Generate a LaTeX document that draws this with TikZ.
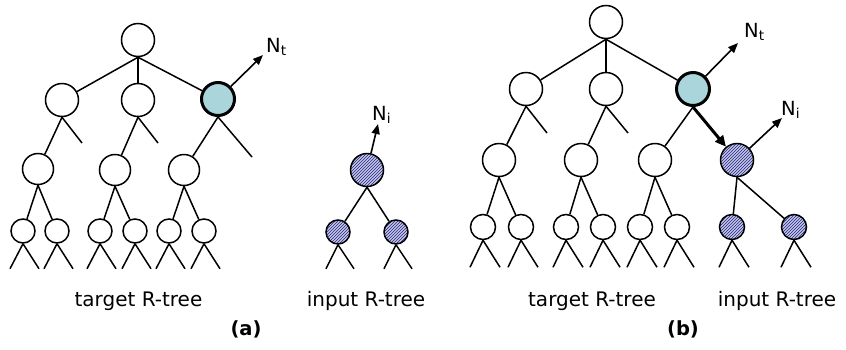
\documentclass[tikz,border=0pt]{standalone}
\usepackage{fontspec}
\setmainfont{DejaVu Sans}
\usetikzlibrary{arrows.meta,patterns}

\definecolor{hotfill}{RGB}{170,214,219}
\definecolor{hatchfill}{RGB}{196,198,236}
\definecolor{hatchline}{RGB}{38,40,118}

\tikzset{
  nd/.style={circle, draw, line width=1.5pt, inner sep=0pt, fill=white, minimum size=33pt},
  lvl3/.style={minimum size=31pt},
  leafnd/.style={minimum size=24pt},
  hot/.style={fill=hotfill, line width=3pt},
  hatch/.style={fill=none, preaction={fill=hatchfill}, pattern=north east lines, pattern color=hatchline},
  edge/.style={line width=1.5pt},
  ptr/.style={line width=1.6pt, -{Triangle[length=10pt,width=8pt]}},
  bigptr/.style={line width=3pt, -{Triangle[length=11pt,width=10pt]}},
  lbl/.style={font=\fontsize{19.5}{21}\selectfont, inner sep=0pt},
  panelcap/.style={font=\fontsize{19.5}{21}\selectfont\bfseries, inner sep=0pt, anchor=base},
  ttl/.style={font=\fontsize{20}{22}\selectfont, inner sep=0pt, anchor=base},
}

\begin{document}
\begin{tikzpicture}[x=1pt, y=-1pt]
\useasboundingbox (0,0) rectangle (846,349);

% ---------------- (a) target R-tree ----------------
\node[nd] (a) at (138,40) {};
\node[nd] (a1) at (62,100) {};
\node[nd] (a2) at (138,100) {};
\node[nd,hot] (a3) at (218,99) {};
\node[nd,lvl3] (a11) at (38,169) {};
\node[nd,lvl3] (a21) at (115,170) {};
\node[nd,lvl3] (a31) at (184,170) {};
\node[nd,leafnd] (a111) at (23,231) {};
\node[nd,leafnd] (a112) at (57,231) {};
\node[nd,leafnd] (a211) at (100,231) {};
\node[nd,leafnd] (a212) at (135,231) {};
\node[nd,leafnd] (a311) at (169,231) {};
\node[nd,leafnd] (a312) at (204,231) {};
\coordinate (a1x) at (82,143);
\coordinate (a2x) at (158,143);
\coordinate (a3x) at (252,157);

\draw[edge] (a.south) -- (a1);
\draw[edge] (a.south) -- (a2);
\draw[edge] (a.south) -- (a3);
\draw[edge] (a1.south) -- (a11);
\draw[edge] (a1.south) -- (a1x);
\draw[edge] (a2.south) -- (a21);
\draw[edge] (a2.south) -- (a2x);
\draw[edge] (a3.south) -- (a31);
\draw[edge] (a3.south) -- (a3x);
\foreach \p/\c in {a11/a111, a11/a112, a21/a211, a21/a212, a31/a311, a31/a312}
  \draw[edge] (\p.south) -- (\c);
\foreach \c in {a111, a112, a211, a212, a311, a312} {
  \draw[edge] (\c.south) -- ++(-13,25);
  \draw[edge] (\c.south) -- ++(16,25);
}

\node[lbl, anchor=base west] (ant) at (266,52) {N\textsubscript{t}};
\coordinate (antTip) at (263,55);
\draw[ptr] (a3) -- (antTip);

\node[ttl] (ta) at (138.5,306) {target R-tree};

% ---------------- (a) input R-tree ----------------
\node[nd,hatch] (i) at (367,170) {};
\node[nd,leafnd,hatch] (i1) at (338,232) {};
\node[nd,leafnd,hatch] (i2) at (396,232) {};
\draw[edge] (i.south) -- (i1);
\draw[edge] (i.south) -- (i2);
\foreach \c in {i1, i2} {
  \draw[edge] (\c.south) -- ++(-12,24);
  \draw[edge] (\c.south) -- ++(16,24);
}
\node[lbl, anchor=base west] (ani) at (372,120) {N\textsubscript{i}};
\coordinate (aniTip) at (378,124);
\draw[ptr] (i) -- (aniTip);

\node[ttl] (ia) at (366,306) {input R-tree};
\node[panelcap] (capa) at (246,335) {(a)};

% ---------------- (b) merged tree ----------------
\node[nd] (b) at (606,22) {};
\node[nd] (b1) at (526,89) {};
\node[nd] (b2) at (606,89) {};
\node[nd,hot] (b3) at (693,89) {};
\node[nd] (b11) at (499,160) {};
\node[nd] (b21) at (581,160) {};
\node[nd] (b31) at (655,160) {};
\node[nd,hatch] (h) at (737,160) {};
\node[nd,leafnd,minimum size=25pt] (b111) at (483,227) {};
\node[nd,leafnd,minimum size=25pt] (b112) at (521,227) {};
\node[nd,leafnd,minimum size=25pt] (b211) at (566,227) {};
\node[nd,leafnd,minimum size=25pt] (b212) at (603,227) {};
\node[nd,leafnd,minimum size=25pt] (b311) at (640,227) {};
\node[nd,leafnd,minimum size=25pt] (b312) at (677,227) {};
\node[nd,leafnd,minimum size=25pt,hatch] (h1) at (732,227) {};
\node[nd,leafnd,minimum size=25pt,hatch] (h2) at (794,227) {};
\coordinate (b1x) at (547,133);
\coordinate (b2x) at (628,133);

\draw[edge] (b.south) -- (b1);
\draw[edge] (b.south) -- (b2);
\draw[edge] (b.south) -- (b3);
\draw[edge] (b1.south) -- (b11);
\draw[edge] (b1.south) -- (b1x);
\draw[edge] (b2.south) -- (b21);
\draw[edge] (b2.south) -- (b2x);
\draw[edge] (b3.south) -- (b31);
\draw[bigptr] (b3.south) -- (h);
\foreach \p/\c in {b11/b111, b11/b112, b21/b211, b21/b212, b31/b311, b31/b312, h/h1, h/h2}
  \draw[edge] (\p.south) -- (\c);
\foreach \c in {b111, b112, b211, b212, b311, b312, h1, h2} {
  \draw[edge] (\c.south) -- ++(-13,27);
  \draw[edge] (\c.south) -- ++(17,27);
}

\node[lbl, anchor=base west] (bnt) at (744,37) {N\textsubscript{t}};
\coordinate (bntTip) at (738,43);
\draw[ptr] (b3) -- (bntTip);
\node[lbl, anchor=base west] (bni) at (781,115) {N\textsubscript{i}};
\coordinate (bniTip) at (782,118);
\draw[ptr] (h) -- (bniTip);

\node[ttl] (tb) at (592,306) {target R-tree};
\node[ttl] (ib) at (777,306) {input R-tree};
\node[panelcap] (capb) at (683,335) {(b)};
\end{tikzpicture}
\end{document}
